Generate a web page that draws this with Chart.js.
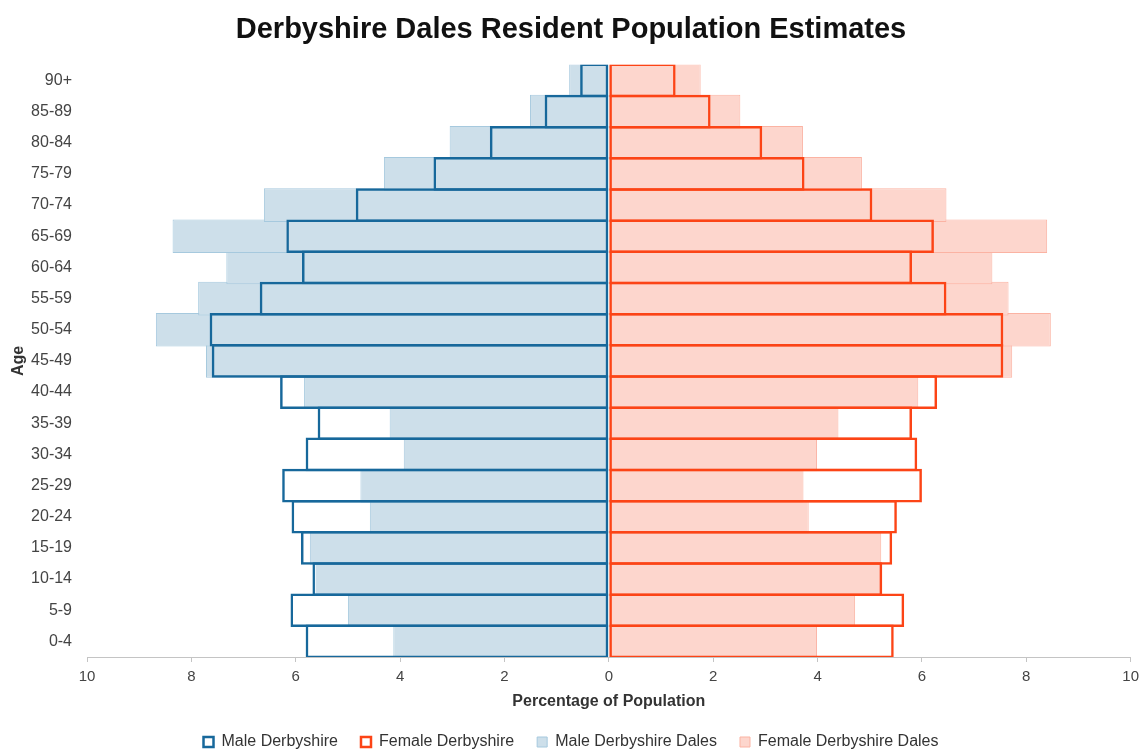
<!DOCTYPE html>
<html>
<head>
<meta charset="utf-8">
<script src="https://cdn.jsdelivr.net/npm/chart.js@4.4.1/dist/chart.umd.min.js"></script>
<style>
html,body{margin:0;padding:0;background:#fff;}
#wrap{width:1145px;height:749px;position:relative;}
</style>
</head>
<body>
<div id="wrap"><canvas id="c"></canvas></div>
<script>
const categories = ['0-4','5-9','10-14','15-19','20-24','25-29','30-34','35-39','40-44','45-49','50-54','55-59','60-64','65-69','70-74','75-79','80-84','85-89','90+'];
const maleDerbyshire   = [5.81, 6.10, 5.68, 5.90, 6.08, 6.26, 5.81, 5.58, 6.30, 7.61, 7.65, 6.69, 5.88, 6.18, 4.85, 3.36, 2.28, 1.23, 0.55];
const femaleDerbyshire = [5.46, 5.66, 5.24, 5.43, 5.52, 6.00, 5.91, 5.81, 6.29, 7.56, 7.56, 6.47, 5.81, 6.23, 5.05, 3.75, 2.94, 1.95, 1.28];
const maleDales        = [4.13, 5.00, 5.62, 5.73, 4.58, 4.76, 3.93, 4.20, 5.84, 7.72, 8.68, 7.87, 7.33, 8.36, 6.61, 4.31, 3.05, 1.51, 0.76];
const femaleDales      = [3.99, 4.72, 5.20, 5.22, 3.83, 3.73, 3.99, 4.40, 5.93, 7.73, 8.47, 7.66, 7.35, 8.40, 6.47, 4.85, 3.72, 2.52, 1.76];
const xTickValues = [-10, -8, -6, -4, -2, 0, 2, 4, 6, 8, 10];

const F = "'Liberation Sans', Arial, sans-serif";
const common = {grouped:false, barPercentage:1.08, categoryPercentage:1, borderSkipped:false};

new Chart(document.getElementById('c'), {
  type: 'bar',
  data: {
    labels: categories,
    datasets: [
      Object.assign({label:'Male Derbyshire', data: maleDerbyshire.map(v => -v),
        backgroundColor:'rgba(255,255,255,0)', borderColor:'#17689b', borderWidth:2.5}, common),
      Object.assign({label:'Female Derbyshire', data: femaleDerbyshire,
        backgroundColor:'rgba(255,255,255,0)', borderColor:'#fc4416', borderWidth:2.5}, common),
      Object.assign({label:'Male Derbyshire Dales', data: maleDales.map(v => -v),
        backgroundColor:'#cddfea', borderColor:'#a6c9de', borderWidth:1}, common),
      Object.assign({label:'Female Derbyshire Dales', data: femaleDales,
        backgroundColor:'#fdd6cd', borderColor:'#fbb3a3', borderWidth:1}, common)
    ]
  },
  options: {
    indexAxis: 'y',
    responsive: true,
    maintainAspectRatio: false,
    animation: false,
    layout: {padding: {left: 9, right: 12, top: 0, bottom: -11}},
    plugins: {
      title: {display: true, text: 'Derbyshire Dales Resident Population Estimates',
        font: {family: F, size: 29, weight: 'bold'}, color: '#111', padding: {top: 13, bottom: 17}},
      legend: {position: 'bottom',
        labels: {boxWidth: 10, boxHeight: 10, padding: 23, font: {family: F, size: 16}, color: '#333'}},
      tooltip: {enabled: false}
    },
    scales: {
      x: {
        min: -10, max: 10,
        afterBuildTicks: s => { s.ticks = xTickValues.map(v => ({value: v})); },
        ticks: {callback: v => Math.abs(v), font: {family: F, size: 15}, color: '#444', padding: 6, maxRotation: 0},
        grid: {drawOnChartArea: false, drawTicks: true, tickLength: 5, color: '#c4c4c4'},
        border: {color: '#c4c4c4'},
        title: {display: true, text: 'Percentage of Population', font: {family: F, size: 16, weight: 'bold'}, color: '#333', padding: 0},
        afterFit: s => { s.height = 54; }
      },
      y: {
        reverse: true,
        grid: {display: false, drawTicks: false},
        border: {display: false},
        ticks: {font: {family: F, size: 16}, color: '#444', padding: 15},
        title: {display: true, text: 'Age', font: {family: F, size: 16, weight: 'bold'}, color: '#333', padding: {top: 0, bottom: 0}},
        afterFit: s => { s.width = 78; }
      }
    }
  }
});
</script>
</body>
</html>
